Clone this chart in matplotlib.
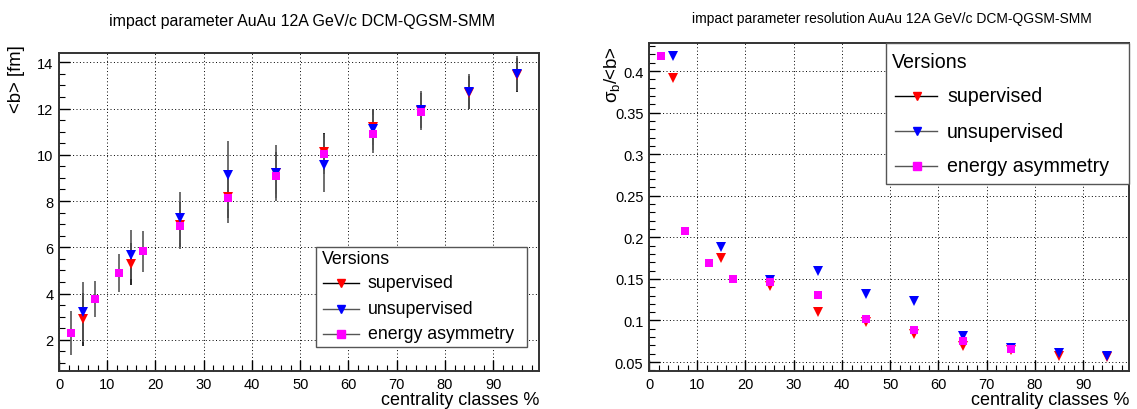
import matplotlib
matplotlib.use("Agg")
import matplotlib.pyplot as plt
from matplotlib.lines import Line2D
from matplotlib.patches import Rectangle
from matplotlib.ticker import MultipleLocator, FuncFormatter

plt.rcParams["font.family"] = ["Liberation Sans", "DejaVu Sans"]
plt.rcParams["mathtext.fontset"] = "custom"
plt.rcParams["mathtext.rm"] = "Liberation Sans"
plt.rcParams["mathtext.it"] = "Liberation Sans"

# ── Data ───────────────────────────────────────────────────────
x_bins = [5, 15, 25, 35, 45, 55, 65, 75, 85, 95]
x_easym = [2.5, 7.5, 12.5, 17.5, 25, 35, 45, 55, 65, 75]

b_sup = [2.88, 5.28, 6.98, 8.18, 9.20, 10.12, 11.20, 11.90, 12.68, 13.45]
b_sup_err = [1.13, 0.92, 0.98, 0.90, 0.90, 0.84, 0.76, 0.76, 0.71, 0.74]
b_unsup = [3.20, 5.68, 7.28, 9.12, 9.22, 9.55, 11.10, 11.95, 12.72, 13.50]
b_unsup_err = [1.30, 1.07, 1.09, 1.46, 1.22, 1.17, 0.90, 0.79, 0.76, 0.76]
b_easym = [2.28, 3.77, 4.88, 5.82, 6.92, 8.12, 9.08, 10.03, 10.88, 11.85]
b_easym_err = [0.95, 0.78, 0.83, 0.87, 1.01, 1.06, 0.93, 0.88, 0.82, 0.78]

res_sup = [0.392, 0.175, 0.141, 0.110, 0.098, 0.084, 0.069, 0.064, 0.057, 0.056]
res_unsup = [0.418, 0.188, 0.149, 0.160, 0.132, 0.123, 0.081, 0.067, 0.061, 0.057]
res_easym = [0.418, 0.208, 0.169, 0.150, 0.146, 0.131, 0.102, 0.089, 0.075, 0.066]

labels = ["supervised", "unsupervised", "energy asymmetry"]
colors = ["#ff0000", "#0000ff", "#ff00ff"]
markers = ["v", "v", "s"]
line_cols = ["#000000", "#555555", "#555555"]

FRAME = "#333333"


def style_axes(ax, xmin, xmax, ymin, ymax, ymaj, ymin_step):
    ax.set_xlim(xmin, xmax)
    ax.set_ylim(ymin, ymax)
    ax.xaxis.set_major_locator(MultipleLocator(10))
    ax.xaxis.set_minor_locator(MultipleLocator(2))
    ax.yaxis.set_major_locator(MultipleLocator(ymaj))
    ax.yaxis.set_minor_locator(MultipleLocator(ymin_step))
    ax.tick_params(which="both", direction="in", top=False, right=False,
                   labelsize=10.5, colors="black", pad=4)
    ax.tick_params(which="major", length=8, width=1.0)
    ax.tick_params(which="minor", length=4, width=0.8)
    ax.grid(which="major", color="black", linestyle=(0, (1, 2.5)), linewidth=0.7)
    for s in ax.spines.values():
        s.set_color(FRAME)
        s.set_linewidth(1.4)
    ax.set_axisbelow(True)


def draw_legend(ax, x0, y0, x1, y1, title_y, ys, line_x, mark_x, text_x, fs):
    t = ax.transAxes
    ax.add_patch(Rectangle((x0, y0), x1 - x0, y1 - y0, transform=t, facecolor="white",
                           edgecolor="#555555", linewidth=1.0, zorder=10, clip_on=False))
    ax.text(x0 + 0.012, title_y, "Versions", transform=t, fontsize=fs,
            va="center", ha="left", zorder=11)
    for y, lab, c, m, lc in zip(ys, labels, colors, markers, line_cols):
        ax.add_line(Line2D(line_x, [y, y], transform=t, color=lc, lw=1.0, zorder=11))
        ax.add_line(Line2D([mark_x], [y], transform=t, marker=m, color=c,
                           markersize=6, linestyle="none", zorder=12))
        ax.text(text_x, y, lab, transform=t, fontsize=fs, va="center", ha="left", zorder=11)


fig = plt.figure(figsize=(11.37, 4.10), dpi=100)

# ── Left panel: mean impact parameter ─────────────────────────
ax1 = fig.add_axes([59 / 1137, 38 / 410, 480 / 1137, 318 / 410])
style_axes(ax1, 0, 99.5, 0.65, 14.4, 2, 0.5)

series = [(x_bins, b_sup, b_sup_err), (x_bins, b_unsup, b_unsup_err),
          (x_easym, b_easym, b_easym_err)]
for (xs, ys, es), c, m, lc in zip(series, colors, markers, line_cols):
    ax1.errorbar(xs, ys, yerr=es, fmt=m, color=c, ecolor=lc, elinewidth=1.2,
                 capsize=2.5, capthick=1.0, markersize=6.5 if m == "v" else 6,
                 markeredgewidth=0, zorder=3)

ax1.set_title("impact parameter AuAu 12A GeV/c DCM-QGSM-SMM", fontsize=11.5,
              x=(302 - 59) / 480, y=1.0, pad=20)
ax1.set_xlabel("centrality classes %", fontsize=13, loc="right", labelpad=0)
ax1.set_ylabel("<b> [fm]", fontsize=13.3, loc="top")
ax1.yaxis.set_label_coords(-0.071, (372 - 45) / 318)

draw_legend(ax1, 0.535, 0.075, 0.975, 0.39,
            title_y=(372 - 260) / 318,
            ys=[(372 - 284) / 318, (372 - 310) / 318, (372 - 335) / 318],
            line_x=[(323 - 59) / 480, (359 - 59) / 480],
            mark_x=(341 - 59) / 480, text_x=(368 - 59) / 480, fs=12.8)

# ── Right panel: resolution ────────────────────────────────────
ax2 = fig.add_axes([649 / 1137, 38 / 410, 480 / 1137, 328 / 410])
style_axes(ax2, 0, 99.5, 0.0392, 0.4337, 0.05, 0.01)
ax2.yaxis.set_major_formatter(FuncFormatter(lambda v, p: f"{v:g}"))

series2 = [(x_bins, res_sup), (x_bins, res_unsup), (x_easym, res_easym)]
for (xs, ys), c, m in zip(series2, colors, markers):
    ax2.plot(xs, ys, linestyle="none", marker=m, color=c,
             markersize=6.5 if m == "v" else 6, markeredgewidth=0, zorder=3)

ax2.set_title("impact parameter resolution AuAu 12A GeV/c DCM-QGSM-SMM", fontsize=10,
              x=(892 - 649) / 480, y=1.0, pad=15)
ax2.set_xlabel("centrality classes %", fontsize=13, loc="right", labelpad=0)
ax2.set_ylabel(r"$\sigma_{b}$/<b>", fontsize=13.5, loc="top")
ax2.yaxis.set_label_coords(-0.056, (372 - 46) / 328)

draw_legend(ax2, 0.494, 0.570, 1.0, 1.0,
            title_y=(372 - 63) / 328,
            ys=[(372 - 97) / 328, (372 - 132) / 328, (372 - 167) / 328],
            line_x=[(895 - 649) / 480, (937 - 649) / 480],
            mark_x=(917 - 649) / 480, text_x=(947 - 649) / 480, fs=14.1)

fig.savefig("out.png", dpi=100, facecolor="white")
